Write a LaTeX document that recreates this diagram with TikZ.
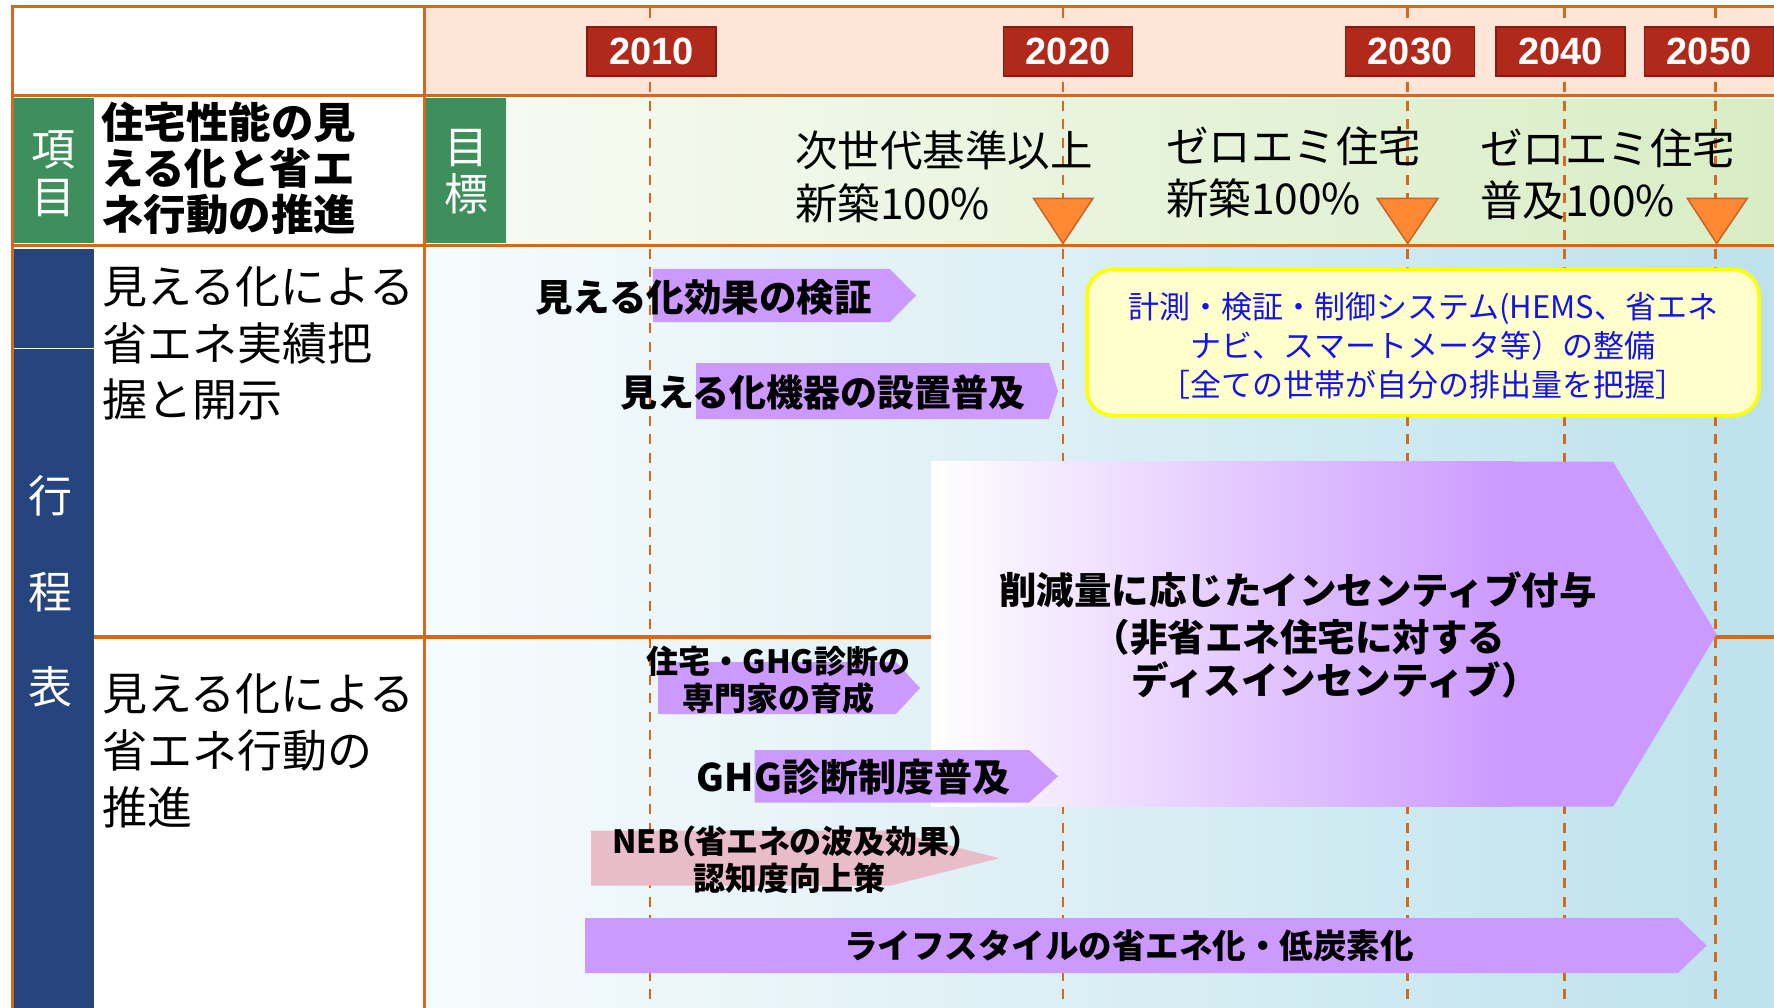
\documentclass[tikz,border=0pt]{standalone}
\usepackage{fontspec}
\setmainfont{Noto Sans CJK JP}
\newfontfamily\jp{Noto Sans CJK JP}
\newfontfamily\yr{Liberation Sans}
\newcommand\setfs[2]{\fontsize{#1}{#2}\selectfont}
\definecolor{lineor}{RGB}{210,105,30}
\definecolor{peach}{RGB}{253,229,216}
\definecolor{cellgreen}{RGB}{63,143,93}
\definecolor{colblue}{RGB}{38,68,126}
\definecolor{yrfill}{RGB}{177,41,26}
\definecolor{yrdraw}{RGB}{134,28,16}
\definecolor{trifill}{RGB}{255,136,51}
\definecolor{tridraw}{RGB}{197,101,43}
\definecolor{purp}{RGB}{204,153,255}
\definecolor{pinkar}{RGB}{232,188,201}
\definecolor{yelfill}{RGB}{255,255,204}
\definecolor{yeldraw}{RGB}{255,255,0}
\definecolor{bluetxt}{RGB}{20,20,230}
\definecolor{goalL}{RGB}{246,250,242}
\definecolor{goalR}{RGB}{216,237,197}
\definecolor{tlL}{RGB}{247,251,253}
\definecolor{tlR}{RGB}{189,226,236}
\begin{document}
\begin{tikzpicture}[x=1pt,y=-1pt,
  grid/.style={draw=lineor,line width=3.5pt},
  yline/.style={draw=lineor,line width=2.7pt,dash pattern=on 10pt off 8.5pt},
  yearbox/.style={fill=yrfill,draw=yrdraw,line width=1.5pt,minimum width=129pt,minimum height=49pt,inner sep=0pt,text=white,font=\yr\bfseries\setfs{38}{40}},
  goaltri/.style={fill=trifill,draw=tridraw,line width=1.5pt},
  bar/.style={fill=purp},
  lbl/.style={inner sep=0pt,outer sep=0pt},
  celltxt/.style={lbl,align=center,text=white,font=\jp\setfs{44}{48}},
  rowtxt/.style={lbl,anchor=west,align=left,font=\jp\setfs{45}{57}},
  goaltxt/.style={lbl,anchor=west,align=left,font=\jp\setfs{42.5}{52}},
  bartxt/.style={lbl,align=center,font=\jp\bfseries}
]
\useasboundingbox (0,0) rectangle (1774,1008);
% backgrounds
\fill[white] (0,0) rectangle (1774,1008);
\fill[peach] (426,8.5) rectangle (1774,94);
\shade[left color=goalL,right color=goalR] (506,99.5) rectangle (1774,243.3);
\shade[left color=tlL,right color=tlR] (426,248) rectangle (1774,1008);
\fill[cellgreen] (14,98.5) rectangle (94,242.8);
\fill[cellgreen] (426,98.5) rectangle (506,242.8);
\fill[colblue] (14,249) rectangle (94,1008);
\draw[white,line width=1.2pt] (14,348.3) -- (94,348.3);
% year guide lines
\foreach \xx in {650,1063,1407.7,1564.5,1715.7}
  \draw[yline] (\xx,8.5) -- (\xx,1008);
% grid lines
\draw[grid] (10.5,6.7) -- (1774,6.7);
\draw[grid] (12.3,5) -- (12.3,1008);
\draw[grid] (10.5,95.7) -- (1774,95.7);
\draw[grid] (10.5,245.5) -- (1774,245.5);
\draw[grid] (424.5,5) -- (424.5,1008);
\draw[grid] (94,637) -- (1774,637);
% year boxes
\node[yearbox] (y2010) at (651.5,51.7) {2010};
\node[yearbox] (y2020) at (1068,51.7) {2020};
\node[yearbox] (y2030) at (1410,51.7) {2030};
\node[yearbox] (y2040) at (1560.6,51.7) {2040};
\node[yearbox] (y2050) at (1709,51.7) {2050};
% goal triangles
\draw[goaltri] (1033.5,198.3) -- (1093,198.3) -- (1063,243.5) -- cycle;
\draw[goaltri] (1377,198.3) -- (1438,198.3) -- (1407.7,243.5) -- cycle;
\draw[goaltri] (1687.3,198.3) -- (1747.3,198.3) -- (1716.7,243.5) -- cycle;
% arrows
\fill[bar] (653,269) -- (890,269) -- (916,295.5) -- (890,322) -- (653,322) -- cycle;
\fill[bar] (696,363) -- (1049,363) -- (1058,391) -- (1049,419) -- (696,419) -- cycle;
\fill[bar] (931,461.7) -- (1613,461.7) -- (1716.6,634.2) -- (1613,806.7) -- (931,806.7) -- cycle;
\shade[left color=white,right color=purp] (931,461.7) rectangle (1513,806.7);
\fill[bar] (658,662) -- (896,662) -- (920,688) -- (896,714) -- (658,714) -- cycle;
\fill[bar] (754.5,750) -- (1029,750) -- (1058,776.3) -- (1029,802.7) -- (754.5,802.7) -- cycle;
\fill[pinkar] (591,830.7) -- (890,830.7) -- (999.4,858.2) -- (890,885.7) -- (591,885.7) -- cycle;
\fill[bar] (585,918) -- (1678,918) -- (1706.7,945.5) -- (1678,973) -- (585,973) -- cycle;
% yellow box
\node[draw=yeldraw,fill=yelfill,line width=3.5pt,rounded corners=26pt,minimum width=672pt,minimum height=146pt,inner sep=0pt] (ybox) at (1423,342.5) {};
\node[lbl,align=center,text=bluetxt,font=\jp\setfs{31}{39}] (ytxt) at (1423,346)
  {計測・検証・制御システム(HEMS、省エネ\\ナビ、スマートメータ等）の整備\\［全ての世帯が自分の排出量を把握］};
% left column texts
\node[celltxt] (koumoku) at (53,174) {項\\目};
\node[celltxt,font=\jp\setfs{44}{47}] (mokuhyo) at (466,171.5) {目\\標};
\node[celltxt,font=\jp\setfs{44}{95.5}] (koutei) at (50,591.5) {行\\程\\表};
\node[lbl,anchor=west,align=left,font=\jp\bfseries\setfs{42.5}{46}] (hdr) at (101,168) {住宅性能の見\\える化と省エ\\ネ行動の推進};
\node[rowtxt,font=\jp\setfs{45}{56.5}] (row1) at (102,343.5) {見える化による\\省エネ実績把\\握と開示};
\node[rowtxt] (row2) at (102,751) {見える化による\\省エネ行動の\\推進};
% goal texts
\node[goaltxt,font=\jp\setfs{42.5}{53}] (goal1) at (795,176.5) {次世代基準以上\\新築100\%};
\node[goaltxt] (goal2) at (1166,172) {ゼロエミ住宅\\新築100\%};
\node[goaltxt] (goal3) at (1480,174) {ゼロエミ住宅\\普及100\%};
% arrow texts
\node[bartxt,font=\jp\bfseries\setfs{37.5}{42}] (tA) at (703.5,297) {見える化効果の検証};
\node[bartxt,font=\jp\bfseries\setfs{37}{42}] (tB) at (823,392) {見える化機器の設置普及};
\node[bartxt,font=\jp\bfseries\setfs{32}{37}] (tD) at (778.5,680.5) {住宅・GHG診断の\\専門家の育成};
\node[bartxt,font=\jp\bfseries\setfs{38}{42}] (tE) at (853.5,777) {GHG診断制度普及};
\node[bartxt,font=\jp\bfseries\setfs{32}{37}] (tF) at (789,859.5) {{\addfontfeatures{RawFeature=+palt}NEB（省エネの波及効果）}\\認知度向上策};
\node[bartxt,font=\jp\bfseries\setfs{33.5}{38}] (tG) at (1129,946) {ライフスタイルの省エネ化・低炭素化};
\node[bartxt,font=\jp\bfseries\setfs{37.5}{42}] (tC1) at (1298,590) {削減量に応じたインセンティブ付与};
\node[bartxt,font=\jp\bfseries\setfs{37.5}{42}] (tC2) at (1299,637) {（非省エネ住宅に対する};
\node[bartxt,font=\jp\bfseries\setfs{37.5}{42}] (tC3) at (1335,680) {ディスインセンティブ）};
\end{tikzpicture}
\end{document}
